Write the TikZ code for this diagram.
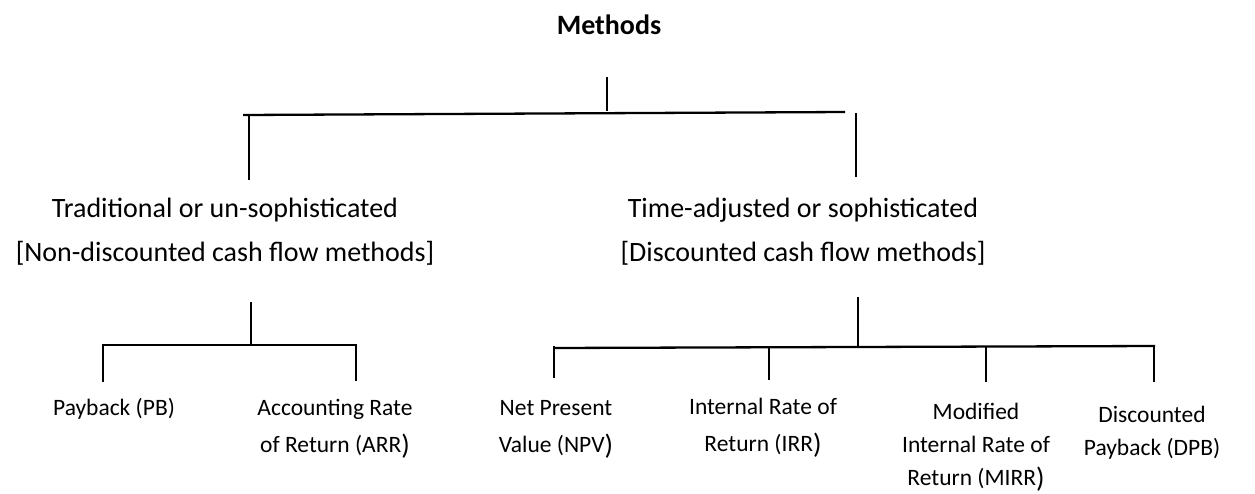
\documentclass[tikz,border=0pt]{standalone}
\usepackage{fontspec}
\setmainfont{Carlito}
\newcommand{\bigrp}{\raisebox{-2pt}{\fontsize{28}{28}\selectfont )}}
\begin{document}
\begin{tikzpicture}[x=1pt,y=-1pt,
  conn/.style={line width=2.3pt, line cap=butt},
  title/.style={font=\fontsize{28}{34}\selectfont\bfseries, inner sep=0pt, anchor=base},
  big/.style={font=\fontsize{28}{44}\selectfont, align=center, inner sep=0pt, anchor=base},
  small/.style={font=\fontsize{23.5}{37}\selectfont, align=center, inner sep=0pt, anchor=base},
  smalltight/.style={font=\fontsize{23.5}{33}\selectfont, align=center, inner sep=0pt, anchor=base}]
\useasboundingbox (0,0) rectangle (1255,493);

% texts (anchor base = baseline of the last line)
\node[title] (methods) at (609,34) {Methods};
\node[big] (trad) at (225,261) {Traditional or un-sophisticated\\{[}Non-discounted cash flow methods{]}};
\node[big] (time) at (803,261) {Time-adjusted or sophisticated\\{[}Discounted cash flow methods{]}};

\node[small] (pb) at (114,415) {Payback (PB)};
\node[small] (arr) at (335,452) {Accounting Rate\\of Return (ARR\bigrp};
\node[small] (npv) at (556,452) {Net Present\\Value (NPV\bigrp};
\node[small] (irr) at (763,451) {Internal Rate of\\Return (IRR\bigrp};
\node[smalltight] (mirr) at (976,485) {Modified\\Internal Rate of\\Return (MIRR\bigrp};
\node[smalltight] (dpb) at (1152,455) {Discounted\\Payback (DPB)};

% top level
\draw[conn] (607,77) coordinate (m1) -- (607,111) coordinate (m2);
\draw[conn] (243,115) coordinate (b1) -- (845,112) coordinate (b2);
\draw[conn] (249,114) coordinate (l1) -- (249,180) coordinate (l2);
\draw[conn] (856,113) coordinate (r1) -- (856,177) coordinate (r2);

% left group
\draw[conn] (251,302) coordinate (lc1) -- (251,345) coordinate (lc2);
\draw[conn] (103,345) coordinate (lb1) -- (356,345) coordinate (lb2);
\draw[conn] (103,344) coordinate (lp1) -- (103,382) coordinate (lp2);
\draw[conn] (356,344) coordinate (la1) -- (356,381) coordinate (la2);

% right group
\draw[conn] (858,297) coordinate (rc1) -- (858,347) coordinate (rc2);
\draw[conn] (553,348) coordinate (rb1) -- (1155,346) coordinate (rb2);
\draw[conn] (554,346) coordinate (rn1) -- (554,378) coordinate (rn2);
\draw[conn] (769,347) coordinate (ri1) -- (769,380) coordinate (ri2);
\draw[conn] (986,347) coordinate (rm1) -- (986,382) coordinate (rm2);
\draw[conn] (1154,345) coordinate (rd1) -- (1154,382) coordinate (rd2);
\end{tikzpicture}
\end{document}
